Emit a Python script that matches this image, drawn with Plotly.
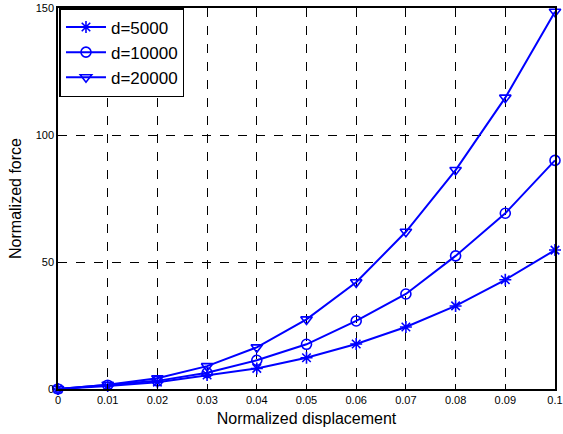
import plotly.graph_objects as go

x = [0, 0.01, 0.02, 0.03, 0.04, 0.05, 0.06, 0.07, 0.08, 0.09, 0.1]
d5000 = [0, 1.2, 2.7, 5.5, 8.1, 12.3, 17.7, 24.4, 32.7, 43.0, 54.7]
d10000 = [0, 1.5, 3.2, 6.4, 11.3, 17.6, 26.8, 37.4, 52.4, 69.2, 90.0]
d20000 = [0, 1.7, 4.2, 9.0, 16.4, 27.4, 42.0, 61.9, 86.2, 114.7, 148.5]
names = ["d=5000", "d=10000", "d=20000"]
symbols = ["asterisk-open", "circle-open", "triangle-down-open"]
xtick_vals = [0, 0.01, 0.02, 0.03, 0.04, 0.05, 0.06, 0.07, 0.08, 0.09, 0.1]
xtick_text = ["0", "0.01", "0.02", "0.03", "0.04", "0.05", "0.06", "0.07", "0.08", "0.09", "0.1"]
ytick_vals = [0, 50, 100, 150]

fig = go.Figure()
for name, ys, sym in zip(names, [d5000, d10000, d20000], symbols):
    fig.add_trace(go.Scatter(
        x=x, y=ys, name=name, mode="lines+markers",
        line=dict(color="#0000ff", width=2),
        marker=dict(symbol=sym, size=10, color="#0000ff",
                    line=dict(color="#0000ff", width=1.6)),
        cliponaxis=False,
    ))

font_fam = "Arial, Liberation Sans"
axis_common = dict(
    showline=True, linecolor="black", linewidth=1.5, mirror="ticks",
    ticks="inside", ticklen=5, tickcolor="black", tickwidth=1,
    showgrid=True, gridcolor="black", griddash="dash", gridwidth=1,
    zeroline=False, automargin=False,
    tickfont=dict(family=font_fam, size=11, color="black"),
    title_font=dict(family=font_fam, size=16, color="black"),
)

fig.update_layout(
    width=563, height=434,
    margin=dict(l=58, r=8, t=8, b=45),
    paper_bgcolor="white", plot_bgcolor="white",
    showlegend=True,
    legend=dict(x=0.003, y=1.0, xanchor="left", yanchor="top",
                bgcolor="white", bordercolor="black", borderwidth=1.5,
                font=dict(family=font_fam, size=17, color="black"),
                tracegroupgap=0, itemwidth=40),
    xaxis=dict(range=[0, 0.1], tickvals=xtick_vals, ticktext=xtick_text, tickangle=0,
               title=dict(text="Normalized displacement", standoff=8), **axis_common),
    yaxis=dict(range=[0, 150], tickvals=ytick_vals,
               title=dict(text="Normalized force", standoff=10), **axis_common),
)

fig.write_html("out.html")
